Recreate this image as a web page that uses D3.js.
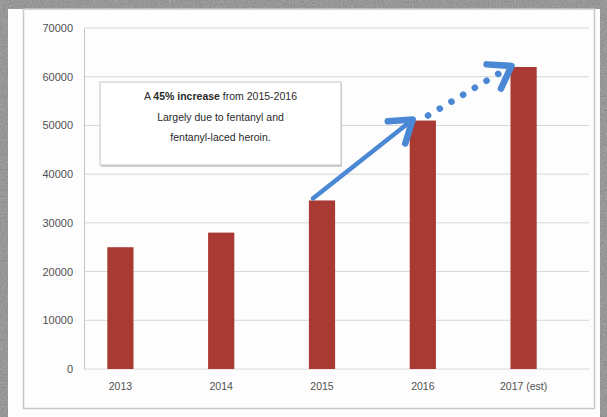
<!DOCTYPE html>
<html><head><meta charset="utf-8">
<script src="https://cdn.jsdelivr.net/npm/d3@7"></script>
<style>html,body{margin:0;padding:0;background:#8a8a8a;}svg{display:block;}</style>
</head><body>
<svg id="c" width="607" height="417"></svg>
<script>
const years = ["2013", "2014", "2015", "2016", "2017 (est)"];
const deaths = [25000, 28000, 34600, 51000, 62000];
const yTicks = [0, 10000, 20000, 30000, 40000, 50000, 60000, 70000];
const noteLines = ["A 45% increase from 2015-2016", "Largely due to fentanyl and", "fentanyl-laced heroin."];

const svg = d3.select("#c");
const W = 607, H = 417;

// textured gray background
const defs = svg.append("defs");
const f = defs.append("filter").attr("id", "noise").attr("x", 0).attr("y", 0).attr("width", "100%").attr("height", "100%");
f.append("feTurbulence").attr("type", "fractalNoise").attr("baseFrequency", 0.75).attr("numOctaves", 2).attr("seed", 3);
f.append("feColorMatrix").attr("type", "saturate").attr("values", 0);
svg.append("rect").attr("width", W).attr("height", H).attr("fill", "#888");
svg.append("rect").attr("width", W).attr("height", H).attr("filter", "url(#noise)").attr("opacity", 0.6);

// white chart area
svg.append("rect").attr("x", 8).attr("y", 9).attr("width", 592).attr("height", 408).attr("fill", "#fdfdfd");
svg.append("rect").attr("x", 23.5).attr("y", 9).attr("width", 571).attr("height", 399.5)
  .attr("fill", "none").attr("stroke", "#c8c8c8").attr("stroke-width", 1.5);

const y = d3.scaleLinear().domain([0, 70000]).range([369, 28]);
const x = d3.scaleBand().domain(years).range([70, 574]).paddingInner(0.74).paddingOuter(0.37);

// gridlines
svg.append("g").selectAll("line").data(yTicks.filter(d => d > 0)).join("line")
  .attr("x1", 84).attr("x2", 589).attr("y1", d => y(d)).attr("y2", d => y(d))
  .attr("stroke", "#d6d6d6").attr("stroke-width", 1);

// y axis
const yAxis = d3.axisLeft(y).tickValues(yTicks).tickSize(0).tickPadding(11).tickFormat(d3.format("d"));
const gy = svg.append("g").attr("transform", "translate(84,0)").call(yAxis);
gy.select(".domain").attr("stroke", "#c4c4c4");
gy.selectAll("text").attr("font-family", "Liberation Sans, Arial, sans-serif").attr("font-size", 11).attr("fill", "#505050");

// x axis
const xAxis = d3.axisBottom(x).tickSize(0).tickPadding(14);
const gx = svg.append("g").attr("transform", "translate(0,369)").call(xAxis);
gx.select(".domain").attr("stroke", "#dadada").attr("d", "M84,0H589");
gx.selectAll("text").attr("font-family", "Liberation Sans, Arial, sans-serif").attr("font-size", 10.5).attr("fill", "#505050");

// bars
svg.append("g").selectAll("rect").data(years).join("rect")
  .attr("x", d => x(d)).attr("width", x.bandwidth())
  .attr("y", (d, i) => y(deaths[i])).attr("height", (d, i) => y(0) - y(deaths[i]))
  .attr("fill", "#a93a33");

// annotation box
const bx = 100, by = 82, bw = 241, bh = 83;
svg.append("rect").attr("x", bx + 1).attr("y", by + 2).attr("width", bw).attr("height", bh).attr("fill", "#cfcfcf");
svg.append("rect").attr("x", bx).attr("y", by).attr("width", bw).attr("height", bh)
  .attr("fill", "#fff").attr("stroke", "#c4c4c4").attr("stroke-width", 1);
const t = svg.append("g").attr("font-family", "Liberation Sans, Arial, sans-serif").attr("font-size", 10.5).attr("fill", "#2a2a2a").attr("text-anchor", "middle");
noteLines.forEach((s, i) => {
  const te = t.append("text").attr("x", bx + bw / 2).attr("y", by + 18 + i * 20.5);
  if (i === 0) {
    te.append("tspan").text("A ");
    te.append("tspan").attr("font-weight", "bold").text("45% increase");
    te.append("tspan").text(" from 2015-2016");
  } else te.text(s);
});

// arrows
const blue = "#4a87d4";
function arrow(x1, y1, x2, y2, dotted) {
  const g = svg.append("g").attr("stroke", blue).attr("fill", "none").attr("stroke-linecap", "round").attr("stroke-linejoin", "round");
  const ang = Math.atan2(y2 - y1, x2 - x1);
  const L = 25, a = 0.6;
  const ln = g.append("line").attr("x1", x1).attr("y1", y1)
    .attr("x2", x2 - Math.cos(ang) * (dotted ? 10 : 3)).attr("y2", y2 - Math.sin(ang) * (dotted ? 10 : 3))
    .attr("stroke-width", dotted ? 6.5 : 4.5);
  if (dotted) ln.attr("stroke-dasharray", "0.1 13.5");
  const p1 = [x2 - L * Math.cos(ang - a), y2 - L * Math.sin(ang - a)];
  const p2 = [x2 - L * Math.cos(ang + a), y2 - L * Math.sin(ang + a)];
  g.append("path").attr("d", `M${p1[0]},${p1[1]}L${x2},${y2}L${p2[0]},${p2[1]}`)
    .attr("stroke-width", 6.5);
}
const bwid = x.bandwidth();
arrow(x(years[2]) + 4, y(deaths[2]) - 2, x(years[3]) + 3, y(deaths[3]) - 1, false);
arrow(x(years[3]) + bwid * 0.7, y(deaths[3]) - 5, x(years[4]) + 1, y(deaths[4]) - 1, true);
</script>
</body></html>
